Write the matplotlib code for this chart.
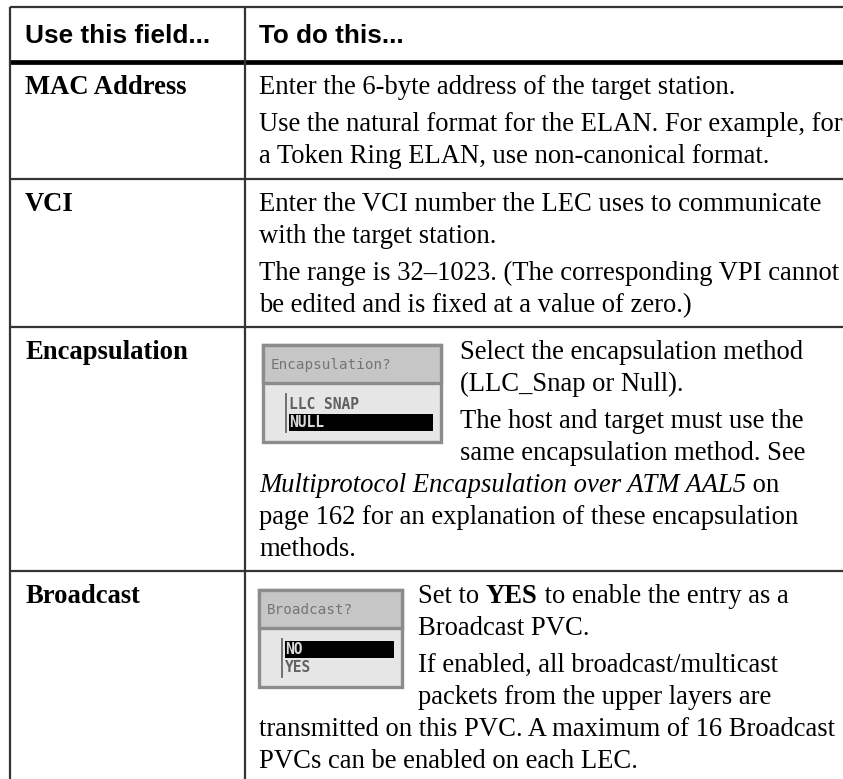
import matplotlib
matplotlib.use("Agg")
import matplotlib.pyplot as plt
from matplotlib.patches import Rectangle

# Table content
header = ["Use this field...", "To do this..."]
fields = ["MAC Address", "VCI", "Encapsulation", "Broadcast"]

# each row: list of paragraphs, each paragraph a list of lines, each line a list of (text, style) runs
mac_text = [
    [[("Enter the 6-byte address of the target station.", "n")]],
    [[("Use the natural format for the ELAN. For example, for", "n")],
     [("a Token Ring ELAN, use non-canonical format.", "n")]],
]
vci_text = [
    [[("Enter the VCI number the LEC uses to communicate", "n")],
     [("with the target station.", "n")]],
    [[("The range is 32\u20131023. (The corresponding VPI cannot", "n")],
     [("be edited and is fixed at a value of zero.)", "n")]],
]
encap_text = [
    [[("Select the encapsulation method", "n")],
     [("(LLC_Snap or Null).", "n")]],
    [[("The host and target must use the", "n")],
     [("same encapsulation method. See", "n")],
     [("Multiprotocol Encapsulation over ATM AAL5", "i"), (" on", "n")],
     [("page 162 for an explanation of these encapsulation", "n")],
     [("methods.", "n")]],
]
bcast_text = [
    [[("Set to ", "n"), ("YES", "b"), (" to enable the entry as a", "n")],
     [("Broadcast PVC.", "n")]],
    [[("If enabled, all broadcast/multicast", "n")],
     [("packets from the upper layers are", "n")],
     [("transmitted on this PVC. A maximum of 16 Broadcast", "n")],
     [("PVCs can be enabled on each LEC.", "n")]],
]
descriptions = [mac_text, vci_text, encap_text, bcast_text]

# little menu pictures: (title, options, selected index)
widgets = {2: ("Encapsulation?", ["LLC SNAP", "NULL"], 1),
           3: ("Broadcast?", ["NO", "YES"], 0)}

# layout (pixels)
W, H = 843, 779
row_tops = [7, 62, 179, 327, 571]
col_x = [10, 245]
text_x1, text_x2 = 25, 259
line_step, para_gap = 32, 37
# (x0, x1, y0, y1, text indent for lines beside the picture, number of lines beside it)
widget_box = {2: (263, 441, 345, 442, 460, 4), 3: (259, 402, 590, 687, 418, 4)}

fig = plt.figure(figsize=(W / 100, H / 100), dpi=100)
ax = fig.add_axes([0, 0, 1, 1])
ax.set_xlim(0, W)
ax.set_ylim(H, 0)
ax.axis("off")
renderer = fig.canvas.get_renderer()

serif = "Liberation Serif"
fs = 19.2
line_col = "#333333"

# grid lines
ax.plot([col_x[0], W], [row_tops[0]] * 2, color=line_col, lw=1.6, solid_capstyle="butt")
for y in row_tops[2:]:
    ax.plot([col_x[0], W], [y] * 2, color=line_col, lw=1.6, solid_capstyle="butt")
ax.plot([col_x[0], W], [row_tops[1]] * 2, color="black", lw=3.4, solid_capstyle="butt")
for x in col_x:
    ax.plot([x, x], [row_tops[0], H], color=line_col, lw=1.6, solid_capstyle="butt")

# header
ax.text(text_x1, 43, header[0], fontfamily="Liberation Sans", fontweight="bold",
        fontsize=18.8, va="baseline", ha="left")
ax.text(text_x2, 43, header[1], fontfamily="Liberation Sans", fontweight="bold",
        fontsize=18.8, va="baseline", ha="left")


def draw_runs(x, y, runs):
    for txt, style in runs:
        t = ax.text(x, y, txt, fontfamily=serif, fontsize=fs, va="baseline", ha="left",
                    fontweight="bold" if style == "b" else "normal",
                    fontstyle="italic" if style == "i" else "normal")
        bb = t.get_window_extent(renderer=renderer)
        x += bb.width


def draw_widget(x0, x1, y0, y1, title, options, sel):
    ax.add_patch(Rectangle((x0, y0), x1 - x0, y1 - y0, facecolor="#e6e6e6",
                           edgecolor="#8c8c8c", lw=2.4))
    ax.add_patch(Rectangle((x0, y0), x1 - x0, 38, facecolor="#c6c6c6",
                           edgecolor="#8c8c8c", lw=2.4))
    ax.text(x0 + 8, y0 + 20, title, fontfamily="DejaVu Sans Mono", fontsize=10.3,
            color="#747474", va="center", ha="left")
    ax.plot([x0 + 23, x0 + 23], [y0 + 49, y0 + 87], color="#666666", lw=1.3)
    for i, opt in enumerate(options):
        yc = y0 + 59 + 18 * i
        if i == sel:
            ax.add_patch(Rectangle((x0 + 26, yc - 8.5), x1 - 8 - (x0 + 26), 17,
                                   facecolor="black", edgecolor="none"))
            ax.text(x0 + 26, yc + 0.5, opt, fontfamily="DejaVu Sans Mono", fontsize=10.5,
                    fontweight="bold", color="#d8d8d8", va="center", ha="left")
        else:
            ax.text(x0 + 26, yc + 0.5, opt, fontfamily="DejaVu Sans Mono", fontsize=10.5,
                    fontweight="bold", color="#606060", va="center", ha="left")


for r, (name, desc) in enumerate(zip(fields, descriptions)):
    y = row_tops[r + 1] + 32
    ax.text(text_x1, y, name, fontfamily=serif, fontweight="bold", fontsize=fs,
            va="baseline", ha="left")
    indent, n_side = text_x2, 0
    if r in widgets:
        x0, x1, y0, y1, indent, n_side = widget_box[r]
        title, opts, sel = widgets[r]
        draw_widget(x0, x1, y0, y1, title, opts, sel)
    k = 0
    for p, para in enumerate(desc):
        if p > 0:
            y += para_gap - line_step
        for line in para:
            draw_runs(indent if k < n_side else text_x2, y, line)
            y += line_step
            k += 1

fig.savefig("out.png", dpi=100)
